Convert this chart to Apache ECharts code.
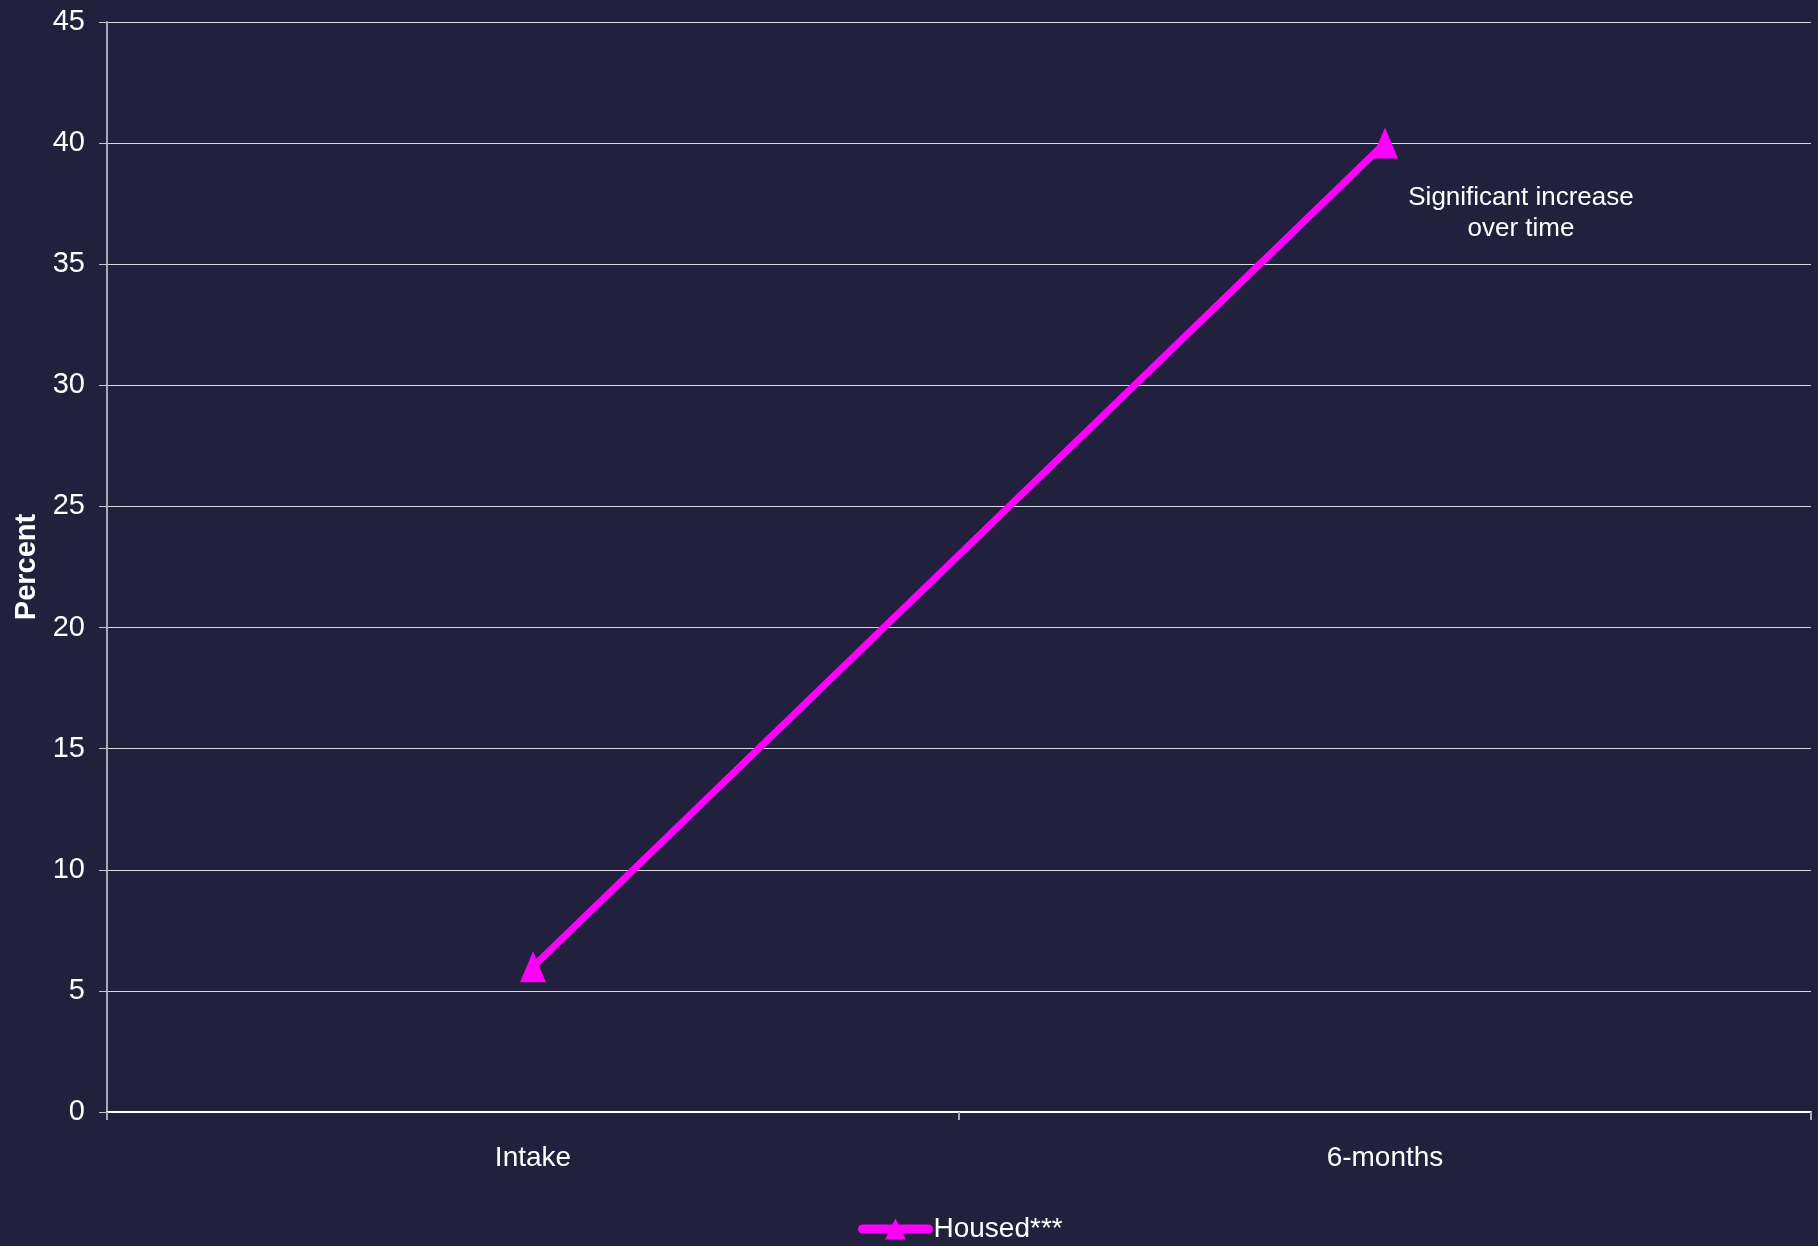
<!DOCTYPE html>
<html>
<head>
<meta charset="utf-8">
<script src="https://cdn.jsdelivr.net/npm/echarts@6/dist/echarts.min.js"></script>
<style>
html,body{margin:0;padding:0;background:#21203d;}
#chart{width:1818px;height:1246px;}
</style>
</head>
<body>
<div id="chart"></div>
<script>
const categories = ['Intake', '6-months'];
const housedValues = [6, 40];
const seriesName = 'Housed***';
const yTicks = { min: 0, max: 45, interval: 5 };
const annotationText = 'Significant increase\nover time';

const chart = echarts.init(document.getElementById('chart'));
const font = 'Liberation Sans, Arial, sans-serif';
chart.setOption({
  backgroundColor: '#21203d',
  animation: false,
  grid: { left: 107, right: 7, top: 22, bottom: 134 },
  xAxis: {
    type: 'category',
    data: categories,
    boundaryGap: true,
    axisLine: { lineStyle: { color: '#ffffff', width: 2 } },
    axisTick: { show: true, length: 8, lineStyle: { color: '#a8a8b4', width: 2 } },
    axisLabel: { color: '#ffffff', fontSize: 28, fontFamily: font, margin: 32 },
    splitLine: { show: false }
  },
  yAxis: {
    type: 'value',
    min: yTicks.min, max: yTicks.max, interval: yTicks.interval,
    name: 'Percent',
    nameLocation: 'middle',
    nameGap: 65,
    nameTextStyle: { color: '#ffffff', fontSize: 29, fontWeight: 'bold', fontFamily: font },
    axisLine: { show: true, lineStyle: { color: '#a8a8b4', width: 2 } },
    axisTick: { show: true, length: 8, lineStyle: { color: '#c8c8d0', width: 1 } },
    axisLabel: { color: '#ffffff', fontSize: 29, fontFamily: font, margin: 22, padding: [5, 0, 0, 0] },
    splitLine: { show: true, lineStyle: { color: '#d8d8e0', width: 1 } }
  },
  legend: {
    data: [seriesName],
    left: 853,
    top: 1210,
    itemWidth: 66,
    itemHeight: 26,
    itemGap: 4,
    lineStyle: { width: 9, cap: 'round' },
    textStyle: { color: '#ffffff', fontSize: 28, fontFamily: font, padding: [6, 0, 0, 0] }
  },
  series: [{
    name: seriesName,
    type: 'line',
    data: housedValues,
    symbol: 'triangle',
    symbolSize: [26, 31],
    lineStyle: { color: '#ff00ff', width: 7 },
    itemStyle: { color: '#ff00ff' }
  }],
  graphic: [{
    type: 'text',
    left: 1396,
    top: 182,
    style: {
      text: annotationText,
      fill: '#ffffff',
      font: '26px ' + font,
      textAlign: 'center',
      lineHeight: 31,
      width: 250
    }
  }]
});
</script>
</body>
</html>
